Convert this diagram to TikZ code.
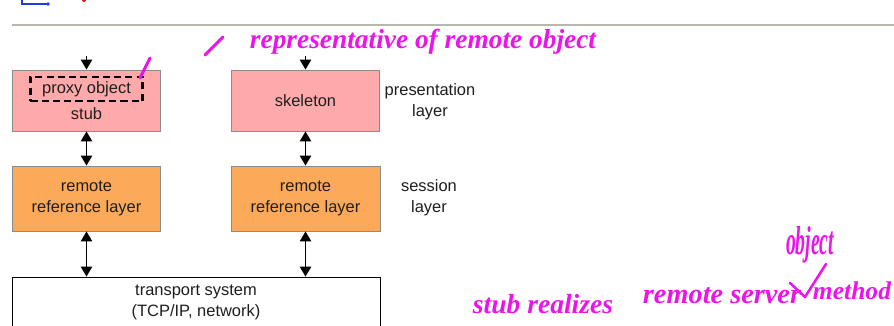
\documentclass[tikz,border=0pt]{standalone}
\usepackage{fontspec}
\setmainfont{Liberation Sans}
\newfontfamily\handfont{Liberation Serif}
\usepackage{graphicx}
\usetikzlibrary{arrows.meta}
\definecolor{mypink}{RGB}{255,170,170}
\definecolor{myorange}{RGB}{252,170,90}
\definecolor{myframe}{RGB}{140,140,140}
\definecolor{myrule}{RGB}{185,182,172}
\definecolor{mymagenta}{RGB}{235,20,235}
\definecolor{myblue}{RGB}{30,60,220}
\definecolor{myred}{RGB}{230,20,20}
\definecolor{mytext}{RGB}{30,30,30}

\begin{document}
\begin{tikzpicture}[x=0.025cm,y=-0.025cm,
  txt/.style={inner sep=0pt, align=center, text=mytext, font=\fontsize{11.7}{15}\selectfont},
  presbox/.style={draw=myframe, fill=mypink, line width=0.6pt, minimum width=3.7cm, minimum height=1.525cm, inner sep=0pt},
  sessbox/.style={draw=myframe, fill=myorange, line width=0.6pt, minimum width=3.72cm, minimum height=1.625cm, txt},
  arr/.style={-{Triangle[width=8pt,length=7pt]}, line width=0.9pt},
  dblarr/.style={{Triangle[width=8pt,length=7pt]}-{Triangle[width=8pt,length=7pt]}, line width=0.9pt},
  hand/.style={mymagenta, line width=2.2pt, line cap=round, line join=round},
  handtxt/.style={mymagenta, inner sep=0pt, font=\handfont\bfseries\itshape}]
  \useasboundingbox (0,0) rectangle (894,325);
  \clip (0,0) rectangle (894,325);
  \fill[white] (0,0) rectangle (894,325);

  % page rule and leftover pen marks
  \draw[myrule, line width=1.5pt] (12,25) -- (894,25);
  \draw[myblue, line width=1pt] (22,0) -- (22,4) -- (47,4);
  \fill[myblue] (48,4) circle (1.8);
  \fill[myred] (84,0) circle (2);

  % presentation layer
  \node[presbox] (stub) at (86.5,100.5) {};
  \node[txt, draw, dashed, line width=1.6pt, dash pattern=on 5pt off 3pt,
        minimum width=2.8cm, minimum height=0.6cm] (proxy) at (86.5,89) {proxy object};
  \node[txt] (stublbl) at (86.5,114) {stub};
  \node[presbox, txt] (skel) at (305.5,100.5) {skeleton};
  \node[txt] (preslbl) at (430,101.5) {presentation\\layer};

  % session layer
  \node[sessbox] (sessL) at (86.5,198.5) {remote\\reference layer};
  \node[sessbox] (sessR) at (305.5,198.5) {remote\\reference layer};
  \node[txt] (sesslbl) at (429,198) {session\\layer};

  % transport
  \node[txt, draw=black, line width=0.6pt, fill=white, minimum width=9.2cm,
        minimum height=1.25cm] (tsys) at (196,302) {transport system\\(TCP/IP, network)};

  % arrows
  \coordinate (stubin) at (86.5,56);
  \coordinate (skelin) at (305.5,56);
  \draw[arr] (stubin) -- (stub);
  \draw[arr] (skelin) -- (skel);
  \draw[dblarr] (stub) -- (sessL);
  \draw[dblarr] (skel) -- (sessR);
  \draw[dblarr] (sessL.south) -- (sessL.south |- tsys.north);
  \draw[dblarr] (sessR.south) -- (sessR.south |- tsys.north);

  % notes in pen
  \draw[hand] (140,78) -- (150,58);
  \draw[hand] (205,55) -- (223,37);
  \node[handtxt] (rep) at (423,42) {\resizebox{8.65cm}{!}{representative of remote object}};
  \node[handtxt] (realize) at (543,304) {\resizebox{3.5cm}{!}{stub realizes}};
  \node[handtxt] (remsrv) at (722,296) {\resizebox{3.95cm}{!}{remote server}};
  \draw[hand, line width=1.8pt] (790,283) -- (805,297) -- (826,264);
  \node[handtxt] (meth) at (852,291) {\resizebox{1.95cm}{!}{method}};
  \node[handtxt] (obj) at (810,245) {\resizebox{1.2cm}{0.7cm}{object}};
\end{tikzpicture}
\end{document}
